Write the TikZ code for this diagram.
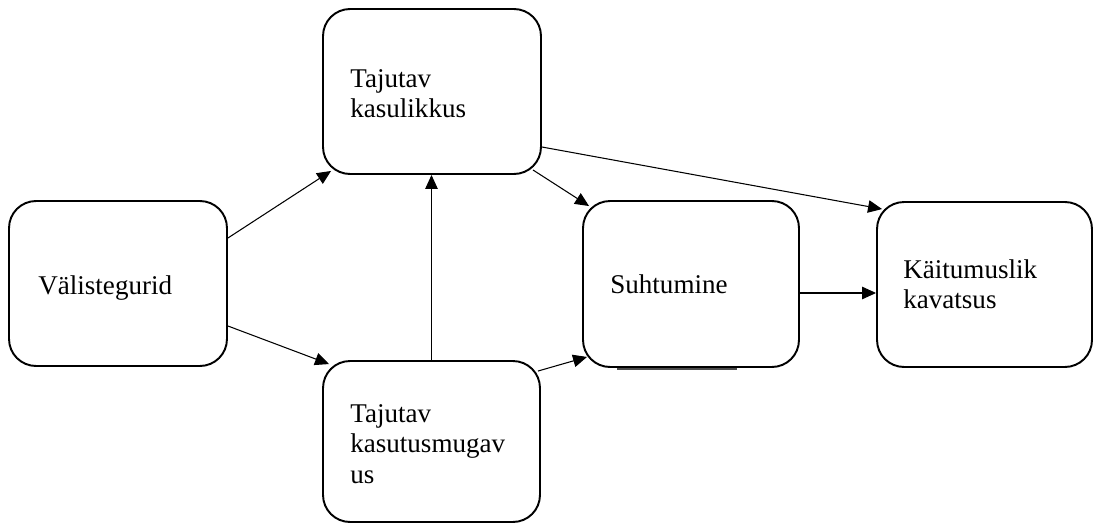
\documentclass[tikz,border=0pt]{standalone}
\usepackage{fontspec}
\setmainfont{Liberation Serif}
\usetikzlibrary{arrows.meta,calc}
\begin{document}
\begin{tikzpicture}[x=0.02cm,y=-0.02cm,
  box/.style={draw=black,line width=1.1pt,rounded corners=0.54cm,fill=white,inner sep=0pt},
  lbl/.style={anchor=base west,inner sep=0pt,font=\fontsize{15.4pt}{17.64pt}\selectfont},
  conn/.style={line width=0.6pt,-{Triangle[length=0.28cm,width=0.25cm]}}]
\useasboundingbox[fill=white] (0,0) rectangle (1093,524);
% boxes
\node[box,minimum width=4.36cm,minimum height=3.30cm] (b1) at (118,283.5) {};
\node[box,minimum width=4.36cm,minimum height=3.30cm] (b2) at (432,91.5) {};
\node[box,minimum width=4.34cm,minimum height=3.22cm] (b3) at (431.5,441.5) {};
\node[box,minimum width=4.32cm,minimum height=3.32cm] (b4) at (691,284) {};
\node[box,minimum width=4.30cm,minimum height=3.30cm] (b5) at (984.5,284.5) {};
% small artifact line under Suhtumine
\draw[line width=0.9pt,black!70] ($(b4.south)+(-74,1.2)$) coordinate (s1) -- ($(b4.south)+(46,1.2)$) coordinate (s2);
% labels
\node[lbl] (t1) at (38,294) {Välistegurid};
\node[lbl] (t2) at (350,87) {\begin{tabular}[t]{@{}l@{}}Tajutav\\kasulikkus\end{tabular}};
\node[lbl] (t3) at (350,422) {\begin{tabular}[t]{@{}l@{}}Tajutav\\kasutusmugav\\us\end{tabular}};
\node[lbl] (t4) at (610,293) {Suhtumine};
\node[lbl] (t5) at (903,278) {\begin{tabular}[t]{@{}l@{}}Käitumuslik\\kavatsus\end{tabular}};
% connectors
\draw[conn] ($(b1.east)+(0,-45.5)$) -- ($(b2.south west)+(9,-4)$);
\draw[conn] ($(b1.east)+(0,42.5)$) -- ($(b3.north west)+(7,4)$);
\draw[conn] (b3.north) -- (b3.north |- b2.south);
\draw[conn] ($(b2.south east)+(-9,-5)$) -- ($(b4.north west)+(7,6)$);
\draw[conn] ($(b2.east)+(0,55.5)$) -- ($(b5.north west)+(6,8)$);
\draw[conn] ($(b3.north east)+(-3,11)$) -- ($(b4.south west)+(5,-11)$);
\draw[conn] ($(b4.east)+(0,9)$) coordinate (e4) -- (b5.west |- e4);
\end{tikzpicture}
\end{document}
